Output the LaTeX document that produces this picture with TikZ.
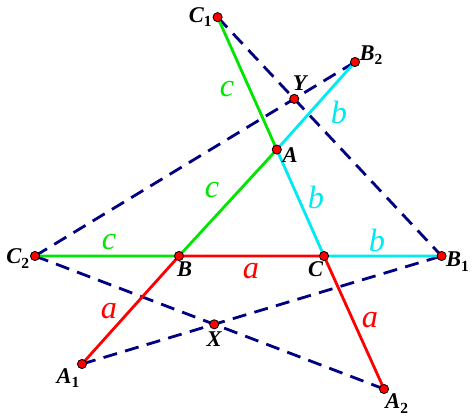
\documentclass[tikz,border=0pt]{standalone}
\usepackage{fontspec}
\setmainfont{Liberation Serif}
\usetikzlibrary{positioning}
\definecolor{sidegreen}{RGB}{0,230,0}
\definecolor{sidecyan}{RGB}{0,235,240}
\definecolor{dashnavy}{RGB}{0,0,128}
\newcommand{\ptname}[2]{#1\raisebox{-0.45ex}{\fontsize{11}{12}\selectfont\upshape #2}}
\tikzset{
  dot/.style={circle,draw=black,fill=red,inner sep=0pt,minimum size=6.5pt,line width=0.6pt},
  ptlab/.style={font=\fontsize{16}{18}\selectfont\bfseries\itshape,inner sep=1pt},
  side/.style={font=\fontsize{23}{25}\selectfont\itshape,inner sep=0pt},
  seg/.style={line width=2pt},
  aux/.style={draw=dashnavy,line width=2pt,dash pattern=on 10pt off 6pt}
}
\begin{document}
\begin{tikzpicture}
\useasboundingbox (0,0) rectangle (11.875,-10.425);

\coordinate (C1) at (5.44,-0.43);
\coordinate (B2) at (8.875,-1.55);
\coordinate (A) at (6.92,-3.74);
\coordinate (C2) at (0.875,-6.4);
\coordinate (B) at (4.475,-6.4);
\coordinate (C) at (8.1,-6.4);
\coordinate (B1) at (11.04,-6.4);
\coordinate (A1) at (2.05,-9.1);
\coordinate (A2) at (9.6,-9.725);
\coordinate (Y) at (intersection of C1--B1 and C2--B2);
\coordinate (X) at (intersection of C2--A2 and A1--B1);

\path[aux] (C1) -- (B1);
\path[aux] (C2) -- (B2);
\path[aux] (C2) -- (A2);
\path[aux] (A1) -- (B1);

\path[draw=sidegreen,seg] (C2) -- (B) -- (A) -- (C1);
\path[draw=sidecyan,seg] (B2) -- (A) -- (C) -- (B1);
\path[draw=red,seg] (A1) -- (B) -- (C) -- (A2);

\foreach \p in {C1,B2,Y,A,C2,B,C,B1,X,A1,A2}
  \node[dot] at (\p) {};

\node[ptlab,left=3pt of C1] (lC1) {\ptname{C}{1}};
\node[ptlab,right=2pt of B2,yshift=5pt] (lB2) {\ptname{B}{2}};
\node[ptlab,above=5pt of Y,xshift=4pt] (lY) {Y};
\node[ptlab,right=3pt of A,yshift=-4pt] (lA) {A};
\node[ptlab,left=3pt of C2,yshift=-2pt] (lC2) {\ptname{C}{2}};
\node[ptlab,below=3pt of B,xshift=4pt] (lB) {B};
\node[ptlab,below=3pt of C,xshift=-6pt] (lC) {C};
\node[ptlab,right=2pt of B1,yshift=-4pt] (lB1) {\ptname{B}{1}};
\node[ptlab,below=4pt of X] (lX) {X};
\node[ptlab,below=2pt of A1,xshift=-10pt] (lA1) {\ptname{A}{1}};
\node[ptlab,below=2pt of A2,xshift=9pt] (lA2) {\ptname{A}{2}};

\node[side,text=sidegreen] (sc1) at (5.675,-2.225) {c};
\node[side,text=sidegreen] (sc2) at (5.3,-4.75) {c};
\node[side,text=sidegreen] (sc3) at (2.725,-6.05) {c};
\node[side,text=sidecyan] (sb1) at (8.475,-2.8) {b};
\node[side,text=sidecyan] (sb2) at (7.9,-4.925) {b};
\node[side,text=sidecyan] (sb3) at (9.425,-6.0) {b};
\node[side,text=red] (sa1) at (2.725,-7.775) {a};
\node[side,text=red] (sa2) at (6.275,-6.775) {a};
\node[side,text=red] (sa3) at (9.25,-8.0) {a};
\end{tikzpicture}
\end{document}
